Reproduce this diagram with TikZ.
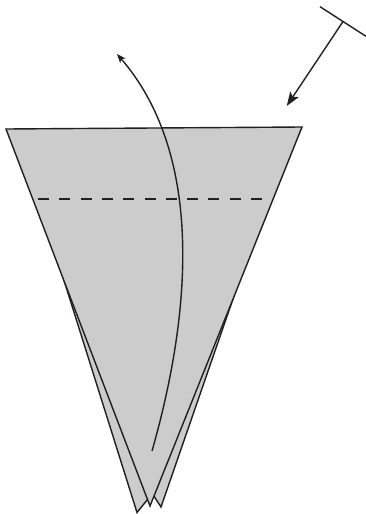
\documentclass[tikz,border=0pt]{standalone}
\usetikzlibrary{arrows.meta}

\definecolor{paper}{gray}{0.8}
\definecolor{ink}{HTML}{231F20}

\begin{document}
\begin{tikzpicture}[x=1pt, y=-1pt,
    flap/.style={draw=ink, fill=paper, line width=1.4pt},
    valley/.style={draw=ink, line width=2.5pt, dash pattern=on 11pt off 10.3pt},
    turn/.style={draw=ink, line width=1.4pt, -{Stealth[length=9pt, width=7pt, inset=2.5pt]}},
    push/.style={draw=ink, line width=1.4pt, -{Stealth[length=14pt, width=10pt, inset=3pt]}}
]
\useasboundingbox (0,0) rectangle (365,514);

% Corners of the front flap
\coordinate (tl) at (6,129);
\coordinate (tr) at (302,127);
\coordinate (tip) at (150,506);

% Back flaps (peeking out below)
\draw[flap] (38.7,200) -- (137,512.5) -- (152,494) -- (120,200) -- cycle;
\draw[flap] (260.3,220) -- (161,507) -- (150,490) -- (180,220) -- cycle;

% Front flap
\draw[flap] (tl) -- (tr) -- (tip) -- cycle;

% Valley fold
\coordinate (vl) at (38,199);
\coordinate (vr) at (262,199);
\draw[valley] (vl) -- (vr);

% Turn over arrow
\coordinate (from) at (152,451);
\coordinate (to) at (117,54);
\draw[turn] (from) .. controls (195,300) and (200,150) .. (to);

% Push arrow
\coordinate (bar1) at (320,6.7);
\coordinate (bar2) at (366,36.3);
\coordinate (bar) at (343,21.5);
\coordinate (aim) at (286.7,106);
\draw[draw=ink, line width=1.4pt] (bar1) -- (bar2);
\draw[push] (bar) -- (aim);

\end{tikzpicture}
\end{document}
